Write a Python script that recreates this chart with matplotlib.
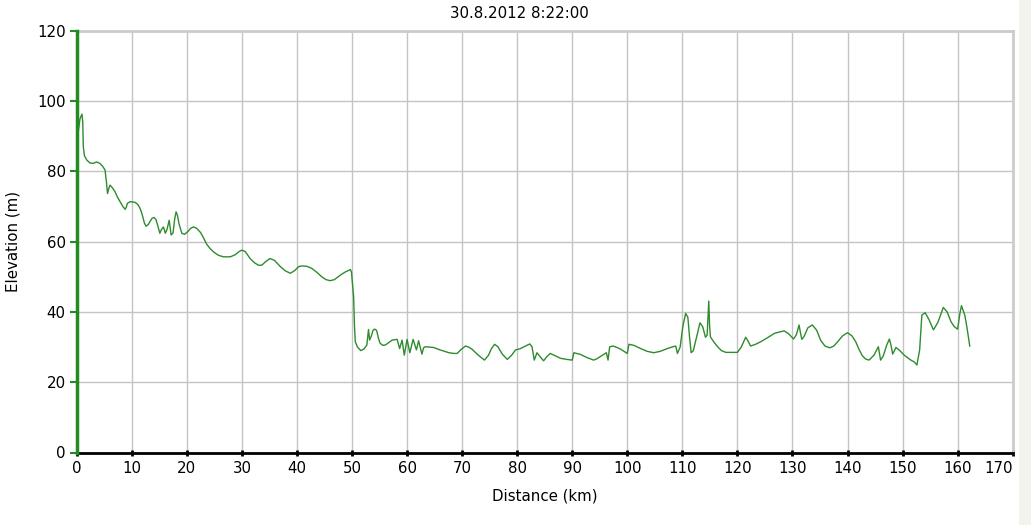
import matplotlib
matplotlib.use("Agg")
import matplotlib.pyplot as plt
from matplotlib.patches import Rectangle

distance_km = [
    0.0, 0.3, 0.6, 0.96, 1.1, 1.2, 1.4, 1.8, 2.4, 3.0, 3.6, 4.2, 4.7, 5.15, 5.4, 5.6, 5.8,
    6.05, 6.5, 6.96, 7.4, 7.87, 8.4, 8.8, 9.0, 9.2, 9.7, 10.6, 11.1, 11.5, 11.8, 12.0,
    12.3, 12.6, 13.0, 13.3, 13.7, 14.05, 14.4, 14.7, 15.1, 15.4, 15.75, 16.1, 16.4, 16.8,
    17.15, 17.5, 17.8, 18.05, 18.3, 18.6, 19.1, 19.6, 20.2, 20.7, 21.2, 21.8, 22.5, 23.0,
    23.6, 24.2, 25.0, 25.8, 26.65, 27.9, 28.8, 29.5, 30.0, 30.6, 31.5, 32.3, 33.0, 33.6,
    34.3, 35.1, 35.9, 37.0, 37.9, 38.8, 39.6, 40.3, 40.9, 41.8, 42.7, 43.6, 44.6, 45.3,
    46.0, 46.8, 47.9, 48.8, 49.5, 49.7, 49.9, 50.1, 50.3, 50.45, 50.6, 51.0, 51.6, 52.2,
    52.7, 53.0, 53.2, 53.5, 53.8, 54.05, 54.3, 54.5, 54.8, 55.1, 55.6, 56.05, 56.7, 57.3,
    58.2, 58.65, 59.1, 59.5, 60.0, 60.5, 61.1, 61.7, 62.1, 62.7, 63.0, 63.3, 64.8, 66.0,
    67.6, 68.5, 69.1, 69.8, 70.6, 71.2, 71.8, 72.8, 74.05, 74.8, 75.3, 75.9, 76.5, 77.3,
    78.2, 79.0, 79.7, 80.5, 81.5, 82.3, 82.7, 83.1, 83.6, 84.2, 84.8, 85.4, 86.0, 86.8,
    87.9, 89.0, 90.0, 90.3, 91.5, 92.7, 93.9, 94.5, 95.1, 95.7, 96.2, 96.5, 96.8, 97.45,
    98.1, 98.8, 99.5, 100.0, 100.3, 101.2, 102.4, 103.6, 104.8, 106.0, 107.3, 108.3,
    108.8, 109.1, 109.6, 110.1, 110.6, 111.0, 111.3, 111.6, 112.0, 112.6, 113.2, 113.7,
    114.2, 114.5, 114.7, 114.8, 114.95, 115.1, 115.7, 116.4, 117.1, 117.9, 120.0, 120.7,
    121.5, 121.9, 122.4, 123.3, 124.2, 125.5, 126.7, 127.6, 128.5, 129.3, 130.2, 130.7,
    131.2, 131.4, 131.7, 132.1, 132.8, 133.6, 134.4, 135.1, 135.9, 136.8, 137.5, 138.2,
    139.1, 140.0, 140.8, 141.5, 142.1, 142.7, 143.3, 143.9, 144.8, 145.6, 146.0, 146.5,
    147.1, 147.6, 147.9, 148.2, 148.8, 149.5, 150.3, 151.5, 152.1, 152.6, 153.1, 153.5,
    154.1, 154.8, 155.6, 156.4, 157.4, 158.1, 158.8, 159.4, 160.0, 160.4, 160.7, 161.3,
    161.7, 162.2,
]
elevation_m = [
    88.9, 91.5, 95.0, 96.3, 94.0, 87.0, 84.5, 83.3, 82.4, 82.3, 82.7, 82.3, 81.5, 80.4, 77.0, 73.7, 75.0,
    76.1, 75.3, 74.2, 72.7, 71.4, 70.0, 69.2, 69.8, 70.9, 71.4, 71.2, 70.6, 69.5, 68.2, 67.1,
    65.3, 64.4, 64.9, 65.7, 66.7, 66.9, 66.3, 64.7, 62.4, 63.5, 64.2, 62.4, 63.5, 66.1,
    61.9, 62.5, 66.5, 68.5, 67.5, 65.0, 62.4, 62.1, 62.9, 63.8, 64.2, 63.8, 62.6, 61.2,
    59.3, 58.1, 56.9, 56.1, 55.7, 55.7, 56.3, 57.2, 57.6, 57.2, 55.2, 54.0, 53.3, 53.3,
    54.3, 55.2, 54.7, 52.9, 51.7, 51.0, 51.8, 52.9, 53.1, 53.0, 52.4, 51.3, 49.9, 49.2,
    48.9, 49.2, 50.5, 51.4, 51.9, 52.1, 51.4, 48.0, 44.3, 36.0, 31.5, 30.0, 29.0, 29.5,
    30.6, 35.0, 32.0, 33.1, 34.7, 35.1, 35.0, 34.6, 32.5, 31.1, 30.5, 30.6, 31.3, 32.0,
    32.2, 29.6, 32.0, 27.7, 32.2, 28.4, 32.2, 29.2, 31.8, 28.0, 29.8, 30.1, 29.9, 29.2,
    28.4, 28.2, 28.2, 29.3, 30.3, 30.0, 29.4, 27.9, 26.3, 27.7, 29.5, 30.8, 30.1, 28.0,
    26.5, 27.7, 29.2, 29.5, 30.3, 30.9, 30.1, 26.3, 28.4, 27.2, 26.1, 27.3, 28.2, 27.6,
    26.8, 26.5, 26.3, 28.4, 27.9, 27.0, 26.3, 26.7, 27.3, 27.9, 28.4, 26.3, 30.1, 30.3,
    29.9, 29.4, 28.7, 28.2, 30.8, 30.5, 29.6, 28.8, 28.4, 28.8, 29.6, 30.1,
    30.3, 28.2, 30.0, 36.0, 39.6, 38.5, 33.0, 28.4, 29.0, 33.0, 36.9, 35.8,
    32.8, 33.4, 40.0, 43.1, 36.0, 32.9, 31.5, 30.1, 29.0, 28.5, 28.5, 30.0,
    32.8, 31.8, 30.3, 30.8, 31.5, 32.7, 33.9, 34.3, 34.6, 33.8, 32.3, 33.5,
    36.3, 34.5, 32.2, 33.0, 35.5, 36.3, 34.8, 32.0, 30.3, 29.8, 30.3, 31.5,
    33.2, 34.1, 33.2, 31.5, 29.3, 27.5, 26.6, 26.3, 27.7, 30.1, 26.3, 27.5,
    30.5, 32.3, 30.5, 28.0, 29.9, 29.0, 27.7, 26.3, 25.8, 24.9, 29.2, 39.1,
    39.8, 37.8, 34.9, 37.0, 41.3, 40.0, 37.2, 35.8, 35.1, 39.5, 41.8, 39.1,
    35.5, 30.3,
]

x_ticks = list(range(0, 171, 10))
y_ticks = list(range(0, 121, 20))
title = "30.8.2012 8:22:00"

W, H = 1031, 525
FS = 10.8
fig = plt.figure(figsize=(W / 100, H / 100), dpi=100)
fig.patch.set_facecolor("white")
ax = fig.add_axes([76.7 / W, 1 - 452.5 / H, (1012.7 - 76.7) / W, (452.5 - 30.9) / H])

ax.plot(distance_km, elevation_m, color="#2e8b2e", linewidth=1.0, zorder=3,
        solid_joinstyle="round", antialiased=True)

ax.set_xlim(0, 170)
ax.set_ylim(0, 120)
ax.set_xticks(x_ticks)
ax.set_yticks(y_ticks)
ax.grid(True, color="#c4c4c4", linewidth=1.0, zorder=0)
ax.set_axisbelow(True)

for s in ["top", "right"]:
    ax.spines[s].set_color("#cccccc")
    ax.spines[s].set_linewidth(2)
ax.spines["left"].set_color("#228b22")
ax.spines["left"].set_linewidth(2.5)
ax.spines["bottom"].set_color("#000000")
ax.spines["bottom"].set_linewidth(2)
ax.spines["left"].set_zorder(5)

ax.tick_params(axis="x", colors="black", length=4, width=2, direction="inout", labelsize=FS, pad=4)
ax.tick_params(axis="y", color="#228b22", labelcolor="black", length=5, width=1.5, direction="out", labelsize=FS, pad=3)

xlabels = ax.get_xticklabels()
xlabels[-1].set_horizontalalignment("right")

ax.set_xlabel("Distance (km)", fontsize=FS, labelpad=9)
ax.set_ylabel("Elevation (m)", fontsize=FS, labelpad=12)

fig.text(519 / W, 1 - 14 / H, title, ha="center", va="center", fontsize=FS)

fig.patches.append(Rectangle((1019 / W, 0), 12 / W, 1, transform=fig.transFigure,
                             facecolor="#f3f2ec", edgecolor="none"))

fig.savefig("out.png", dpi=100)
